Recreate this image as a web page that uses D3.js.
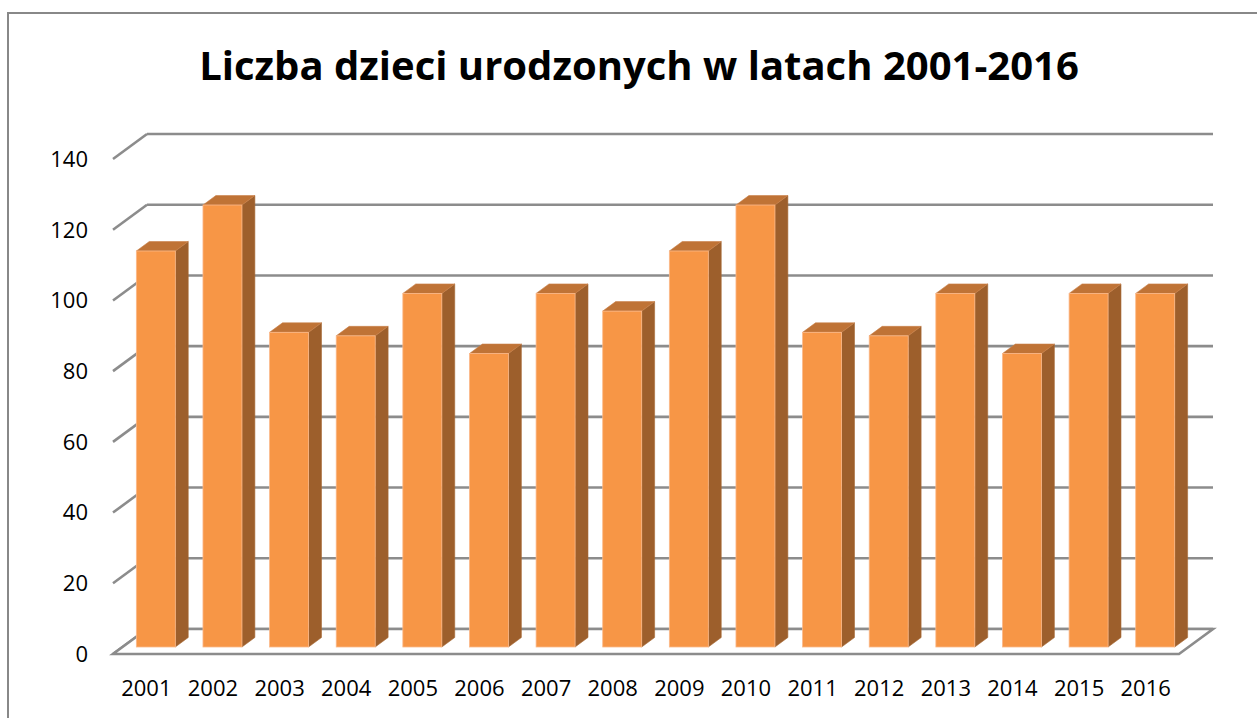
<!DOCTYPE html>
<html>
<head>
<meta charset="utf-8">
<script src="https://cdn.jsdelivr.net/npm/d3@7"></script>
<style>
  html, body { margin: 0; padding: 0; background: #fff; }
  svg { display: block; }
</style>
</head>
<body>
<svg id="chart" width="1257" height="718"></svg>
<script>
const title = "Liczba dzieci urodzonych w latach 2001-2016";
const years = ["2001","2002","2003","2004","2005","2006","2007","2008","2009","2010","2011","2012","2013","2014","2015","2016"];
const births = [112,125,89,88,100,83,100,95,112,125,89,88,100,83,100,100];
const yTicks = [0,20,40,60,80,100,120,140];

const svg = d3.select("#chart");
const W = 1257, H = 718;
svg.append("rect").attr("x",0).attr("y",0).attr("width",W).attr("height",H).attr("fill","#fff");

// chart frame
svg.append("path")
  .attr("d", `M8,${H+5} L8,13 L${W+5},13`)
  .attr("fill","none").attr("stroke","#888").attr("stroke-width",2);

// front plane scales
const x = d3.scaleBand().domain(years).range([113,1179]).paddingInner(0.415).paddingOuter(0.2075);
const y = d3.scaleLinear().domain([0,140]).range([654,159]);
// depth vector of the floor (front -> back)
const DX = 34, DY = -25;
const off = t => [DX*t, DY*t];

const gridColor = "#8c8c8c";
const g = svg.append("g");

// back wall gridlines + left wall diagonals
yTicks.forEach(v => {
  const [bx, by] = off(1);
  const yf = y(v);
  g.append("line")
    .attr("x1", x.range()[0] + bx).attr("y1", yf + by)
    .attr("x2", x.range()[1] + bx).attr("y2", yf + by)
    .attr("stroke", gridColor).attr("stroke-width", 2.6);
  g.append("line")
    .attr("x1", x.range()[0]).attr("y1", yf)
    .attr("x2", x.range()[0] + bx).attr("y2", yf + by)
    .attr("stroke", gridColor).attr("stroke-width", 2.6);
});

// floor outline
{
  const [bx, by] = off(1);
  const x0 = x.range()[0], x1 = x.range()[1], y0 = y(0);
  g.append("path")
    .attr("d", `M${x0},${y0} L${x1},${y0} L${x1+bx},${y0+by} L${x0+bx},${y0+by} Z`)
    .attr("fill","#fff").attr("stroke", gridColor).attr("stroke-width", 2.6)
    .attr("stroke-linejoin","miter");
}

// bars
const t0 = 0.28, t1 = 0.66;
const bw = x.bandwidth();
const bars = svg.append("g");
years.forEach((yr, i) => {
  const v = births[i];
  const [fx, fy] = off(t0);
  const [kx, ky] = off(t1);
  const left = x(yr) + fx;
  const right = left + bw;
  const bottom = y(0) + fy;
  const top = y(v) + fy;
  const dx = kx - fx, dy = ky - fy;
  const bg = bars.append("g");
  // side
  bg.append("path")
    .attr("d", `M${right},${bottom} L${right+dx},${bottom+dy} L${right+dx},${top+dy} L${right},${top} Z`)
    .attr("fill","#9d5f2c").attr("stroke","#a86a36").attr("stroke-width",0.6);
  // top
  bg.append("path")
    .attr("d", `M${left},${top} L${right},${top} L${right+dx},${top+dy} L${left+dx},${top+dy} Z`)
    .attr("fill","#bf7336").attr("stroke","#c98048").attr("stroke-width",0.6);
  // front
  bg.append("rect")
    .attr("x", left).attr("y", top).attr("width", bw).attr("height", bottom - top)
    .attr("fill","#f79646").attr("stroke","#fbb98a").attr("stroke-width",0.8);
});

// y labels
const fontFam = "'Open Sans', 'Noto Sans', sans-serif";
svg.append("g").selectAll("text").data(yTicks).join("text")
  .attr("x", 88).attr("y", d => y(d))
  .attr("dy","0.36em")
  .attr("text-anchor","end")
  .attr("font-family", fontFam).attr("font-size", 22).attr("fill","#000")
  .text(d => d);

// x labels
svg.append("g").selectAll("text").data(years).join("text")
  .attr("x", d => x(d) + x.bandwidth()/2)
  .attr("y", 696)
  .attr("text-anchor","middle")
  .attr("font-family", fontFam).attr("font-size", 22).attr("fill","#000")
  .text(d => d);

// title
const tt = svg.append("text")
  .attr("x", 639).attr("y", 80)
  .attr("text-anchor","middle")
  .attr("font-family", fontFam).attr("font-weight","bold")
  .attr("font-size", 40).attr("fill","#000")
  .text(title);
const tw = tt.node().getComputedTextLength();
tt.attr("font-size", 40 * 880 / tw);
</script>
</body>
</html>
